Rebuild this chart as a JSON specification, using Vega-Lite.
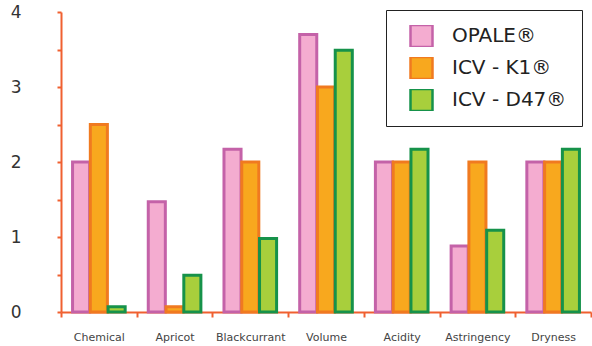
{
  "$schema": "https://vega.github.io/schema/vega-lite/v6.json",
  "width": 530,
  "height": 300,
  "autosize": {"type": "none"},
  "padding": {"left": 61, "top": 12, "right": 1, "bottom": 34},
  "background": "white",
  "data": {
    "values": [
      {"attr": "Chemical", "series": "OPALE®", "value": 2.0},
      {"attr": "Chemical", "series": "ICV - K1®", "value": 2.5},
      {"attr": "Chemical", "series": "ICV - D47®", "value": 0.07},
      {"attr": "Apricot", "series": "OPALE®", "value": 1.47},
      {"attr": "Apricot", "series": "ICV - K1®", "value": 0.07},
      {"attr": "Apricot", "series": "ICV - D47®", "value": 0.49},
      {"attr": "Blackcurrant", "series": "OPALE®", "value": 2.17},
      {"attr": "Blackcurrant", "series": "ICV - K1®", "value": 2.0},
      {"attr": "Blackcurrant", "series": "ICV - D47®", "value": 0.98},
      {"attr": "Volume", "series": "OPALE®", "value": 3.7},
      {"attr": "Volume", "series": "ICV - K1®", "value": 3.0},
      {"attr": "Volume", "series": "ICV - D47®", "value": 3.49},
      {"attr": "Acidity", "series": "OPALE®", "value": 2.0},
      {"attr": "Acidity", "series": "ICV - K1®", "value": 2.0},
      {"attr": "Acidity", "series": "ICV - D47®", "value": 2.17},
      {"attr": "Astringency", "series": "OPALE®", "value": 0.88},
      {"attr": "Astringency", "series": "ICV - K1®", "value": 2.0},
      {"attr": "Astringency", "series": "ICV - D47®", "value": 1.09},
      {"attr": "Dryness", "series": "OPALE®", "value": 2.0},
      {"attr": "Dryness", "series": "ICV - K1®", "value": 2.0},
      {"attr": "Dryness", "series": "ICV - D47®", "value": 2.17}
    ]
  },
  "mark": {"type": "bar", "strokeWidth": 3},
  "encoding": {
    "x": {
      "field": "attr", "type": "nominal", "sort": null,
      "scale": {"paddingInner": 0, "paddingOuter": 0},
      "axis": {
        "title": null, "labelAngle": 0, "tickBand": "extent",
        "domainColor": "#f06030", "domainWidth": 2,
        "tickColor": "#f06030", "tickWidth": 2, "tickSize": 5,
        "labelFont": "DejaVu Sans", "labelFontSize": 11, "labelColor": "#444",
        "labelPadding": 14
      }
    },
    "xOffset": {
      "field": "series", "type": "nominal", "sort": ["OPALE®", "ICV - K1®", "ICV - D47®"],
      "scale": {"paddingInner": 0.04, "paddingOuter": 0.65}
    },
    "y": {
      "field": "value", "type": "quantitative",
      "scale": {"domain": [0, 4], "nice": false},
      "axis": {
        "title": null, "grid": false,
        "values": [0, 0.5, 1, 1.5, 2, 2.5, 3, 3.5, 4],
        "labelExpr": "datum.value % 1 == 0 ? format(datum.value, 'd') : ''",
        "domainColor": "#f06030", "domainWidth": 2,
        "tickColor": "#f06030", "tickWidth": 2, "tickSize": 4,
        "labelFont": "DejaVu Sans", "labelFontSize": 17, "labelColor": "#333",
        "labelPadding": 36
      }
    },
    "fill": {
      "field": "series", "type": "nominal",
      "scale": {"domain": ["OPALE®", "ICV - K1®", "ICV - D47®"], "range": ["#f4acd0", "#f8a81e", "#a8cf3c"]},
      "legend": {
        "title": null, "orient": "none", "legendX": 325, "legendY": -2,
        "strokeColor": "#222", "fillColor": "white", "padding": 15,
        "symbolType": "square", "symbolSize": 484, "symbolStrokeWidth": 2.5,
        "symbolOffset": 8, "rowPadding": 10, "clipHeight": 22, "labelOffset": 18,
        "labelFont": "DejaVu Sans", "labelFontSize": 20, "labelColor": "#222"
      }
    },
    "stroke": {
      "field": "series", "type": "nominal",
      "scale": {"domain": ["OPALE®", "ICV - K1®", "ICV - D47®"], "range": ["#c462a8", "#f07a20", "#16924a"]},
      "legend": {
        "title": null, "orient": "none", "legendX": 325, "legendY": -2,
        "strokeColor": "#222", "fillColor": "white", "padding": 15,
        "symbolType": "square", "symbolSize": 484, "symbolStrokeWidth": 2.5,
        "symbolOffset": 8, "rowPadding": 10, "clipHeight": 22, "labelOffset": 18,
        "labelFont": "DejaVu Sans", "labelFontSize": 20, "labelColor": "#222"
      }
    }
  },
  "config": {"view": {"stroke": null}}
}
